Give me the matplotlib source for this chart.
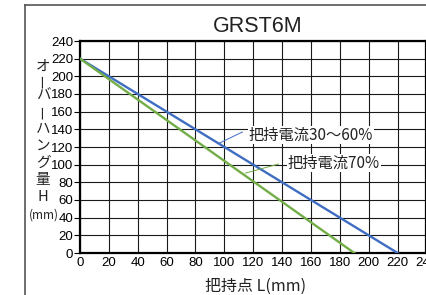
import matplotlib
matplotlib.use('Agg')
import matplotlib.pyplot as plt
from matplotlib.lines import Line2D

# data
L_low = [0, 220]      # 把持電流30～60%
H_low = [220, 0]
L_high = [0, 190]     # 把持電流70%
H_high = [220, 0]
ticks = list(range(0, 260, 20))
ylabel_chars = ['オ', 'ー', 'バ', 'ー', 'ハ', 'ン', 'グ', '量', 'H']

plt.rcParams['font.family'] = ['Liberation Sans', 'Noto Sans CJK JP']
jp = ['Noto Sans CJK JP', 'Liberation Sans']

W, H = 427, 295
fig = plt.figure(figsize=(W / 100, H / 100), dpi=100)
ax = fig.add_axes([80 / W, (H - 253) / H, 346.5 / W, 212 / H])

ax.plot(L_low, H_low, color='#3e6dc2', lw=1.7, zorder=3)
ax.plot(L_high, H_high, color='#72ad47', lw=1.7, zorder=3)

ax.set_xlim(0, 240)
ax.set_ylim(0, 240)
ax.set_xticks(ticks)
ax.set_yticks(ticks)
ax.grid(True, color='#1a1a1a', lw=0.8)
ax.set_axisbelow(True)
for s in ax.spines.values():
  s.set_linewidth(1.6)
ax.tick_params(axis='y', length=4, width=0.8, pad=1, labelsize=9.5)
ax.tick_params(axis='x', length=0, pad=3, labelsize=9.5)

# labels with leader lines
ax.plot([112.5, 96], [137, 124], color='#3e6dc2', lw=0.7, zorder=4)
ax.text(116.7, 133.5, '把持電流30～60%', family=jp, fontsize=11, va='center', ha='left',
        color='#222222', zorder=5,
        bbox=dict(facecolor='white', edgecolor='none', pad=0.5))
ax.plot([137.5, 114.6], [100.7, 90.5], color='#72ad47', lw=0.7, zorder=4)
ax.text(143.8, 101.8, '把持電流70%', family=jp, fontsize=11, va='center', ha='left',
        color='#222222', zorder=5,
        bbox=dict(facecolor='white', edgecolor='none', pad=0.5))

fig.text(258 / W, (H - 26) / H, 'GRST6M', fontsize=15.5, ha='center', va='center', color='#222222')
fig.text(256 / W, (H - 286) / H, '把持点 L(mm)', family=jp, fontsize=11.5, ha='center', va='center',
         color='#222222')

# vertical y label
ys = [67, 81, 96, 112, 129, 146, 163, 180, 197]
for ch, y in zip(ylabel_chars, ys):
  rot = 90 if ch == 'ー' else 0
  fig.text(43 / W, (H - y) / H, ch, family=jp, fontsize=10.5, ha='center', va='center',
           rotation=rot, color='#222222')
fig.text(44 / W, (H - 215) / H, '(mm)', family=jp, fontsize=8.5, ha='center', va='center',
         color='#222222')

# outer frame
fig.add_artist(Line2D([24.7 / W, 24.7 / W], [0, (H - 5) / H], transform=fig.transFigure,
                      color='#555555', lw=1.2))
fig.add_artist(Line2D([24.7 / W, 1], [(H - 5) / H, (H - 5) / H], transform=fig.transFigure,
                      color='#555555', lw=1.2))

fig.savefig('out.png', dpi=100)
